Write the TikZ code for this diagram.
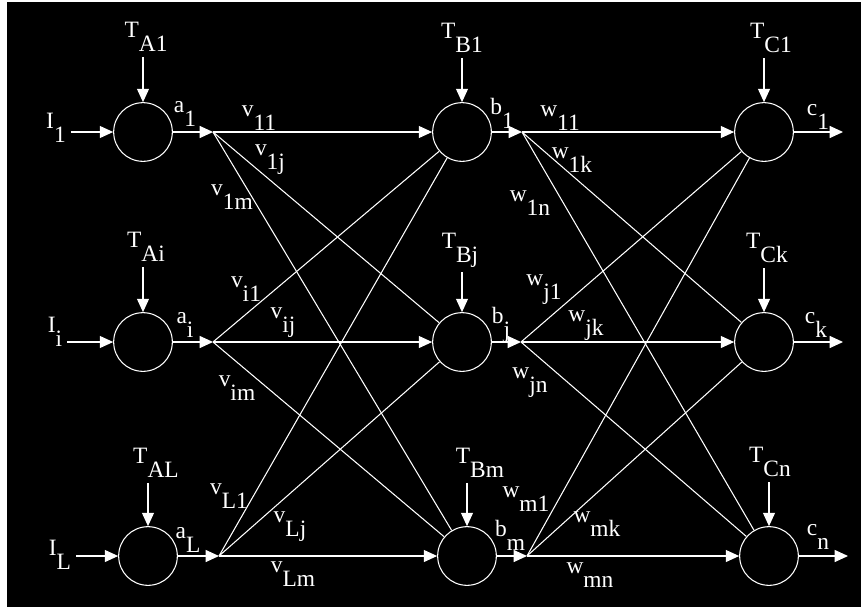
\documentclass[tikz,border=0pt]{standalone}
\usepackage{fontspec}
\setmainfont{Liberation Serif}
\usetikzlibrary{arrows.meta}
\newcommand{\lbl}[2]{#1\raisebox{-12pt}{#2}}

\begin{document}
\begin{tikzpicture}[x=0.03cm,y=-0.03cm,>={Triangle[length=4mm,width=3.6mm]},
 line width=0.9pt,white,font=\fontsize{20}{24}\selectfont,
 unit/.style={circle,draw,minimum size=1.76cm,inner sep=0pt},
 lab/.style={inner sep=4pt}]
\useasboundingbox (0,0) rectangle (861,607);
\fill[white] (0,0) rectangle (861,607);
\fill[black] (7,2) rectangle (861,607);
% Three layers of three units each; pixel grid of the original.
\node[unit] (A1) at (143,132) {};
\node[unit] (Ai) at (143,342) {};
\node[unit] (AL) at (148,556) {};
\node[unit] (B1) at (462,132) {};
\node[unit] (Bj) at (462,342) {};
\node[unit] (Bm) at (467,556) {};
\node[unit] (C1) at (764,132) {};
\node[unit] (Ck) at (764,342) {};
\node[unit] (Cn) at (769,556) {};
\coordinate (a1) at (213,132);
\coordinate (ai) at (213,342);
\coordinate (aL) at (219,556);
\coordinate (b1) at (522,132);
\coordinate (bj) at (521,342);
\coordinate (bm) at (527,556);
\coordinate (c1) at (843,132);
\coordinate (ck) at (843,342);
\coordinate (cn) at (848,556);

% thresholds and inputs
\node[lab] (TA1) at (146,37) {\lbl{T}{A1}};
\node[lab] (TAi) at (146,247) {\lbl{T}{Ai}};
\node[lab] (TAL) at (156,463) {\lbl{T}{AL}};
\node[lab] (TB1) at (462,38) {\lbl{T}{B1}};
\node[lab] (TBj) at (460,250) {\lbl{T}{Bj}};
\node[lab] (TBm) at (480,463) {\lbl{T}{Bm}};
\node[lab] (TC1) at (771,38) {\lbl{T}{C1}};
\node[lab] (TCk) at (767,248) {\lbl{T}{Ck}};
\node[lab] (TCn) at (770,462) {\lbl{T}{Cn}};
\node[lab] (I1) at (56,128) {\lbl{I}{1}};
\node[lab] (Ii) at (55,332) {\lbl{I}{i}};
\node[lab] (IL) at (60,555) {\lbl{I}{L}};
\draw[->] (TA1.south -| A1) -- (A1);
\draw[->] (TAi.south -| Ai) -- (Ai);
\draw[->] (TAL.south -| AL) -- (AL);
\draw[->] (TB1.south -| B1) -- (B1);
\draw[->] (TBj.south -| Bj) -- (Bj);
\draw[->] (TBm.south -| Bm) -- (Bm);
\draw[->] (TC1.south -| C1) -- (C1);
\draw[->] (TCk.south -| Ck) -- (Ck);
\draw[->] (TCn.south -| Cn) -- (Cn);
\draw[->] (I1.east |- A1) -- (A1);
\draw[->] (Ii.east |- Ai) -- (Ai);
\draw[->] (IL.east |- AL) -- (AL);

% first layer to second layer
\draw[->] (A1) -- (a1);
\draw[->] (Ai) -- (ai);
\draw[->] (AL) -- (aL);
\draw[->] (a1) -- (B1);
\draw (a1) -- (Bj);
\draw (a1) -- (Bm);
\draw (ai) -- (B1);
\draw[->] (ai) -- (Bj);
\draw (ai) -- (Bm);
\draw (aL) -- (B1);
\draw (aL) -- (Bj);
\draw[->] (aL) -- (Bm);

% second layer to third layer
\draw[->] (B1) -- (b1);
\draw[->] (Bj) -- (bj);
\draw[->] (Bm) -- (bm);
\draw[->] (b1) -- (C1);
\draw (b1) -- (Ck);
\draw (b1) -- (Cn);
\draw (bj) -- (C1);
\draw[->] (bj) -- (Ck);
\draw (bj) -- (Cn);
\draw (bm) -- (C1);
\draw (bm) -- (Ck);
\draw[->] (bm) -- (Cn);
\draw[->] (C1) -- (c1);
\draw[->] (Ck) -- (ck);
\draw[->] (Cn) -- (cn);

% outputs and weights
\node[lab] (la1) at (185,114) {\lbl{a}{1}};
\node[lab] (lai) at (185,325) {\lbl{a}{i}};
\node[lab] (laL) at (188,540) {\lbl{a}{L}};
\node[lab] (lb1) at (502,113) {\lbl{b}{1}};
\node[lab] (lbj) at (501,325) {\lbl{b}{j}};
\node[lab] (lbm) at (510,535) {\lbl{b}{m}};
\node[lab] (lc1) at (818,117) {\lbl{c}{1}};
\node[lab] (lck) at (816,325) {\lbl{c}{k}};
\node[lab] (lcn) at (818,537) {\lbl{c}{n}};
\node[lab] (v11) at (259,118) {\lbl{v}{11}};
\node[lab] (v1j) at (270,160) {\lbl{v}{1j}};
\node[lab] (v1m) at (232,197) {\lbl{v}{1m}};
\node[lab] (vi1) at (246,289) {\lbl{v}{i1}};
\node[lab] (vij) at (283,323) {\lbl{v}{ij}};
\node[lab] (vim) at (237,388) {\lbl{v}{im}};
\node[lab] (vL1) at (229,496) {\lbl{v}{L1}};
\node[lab] (vLj) at (290,527) {\lbl{v}{Lj}};
\node[lab] (vLm) at (293,574) {\lbl{v}{Lm}};
\node[lab] (w11) at (560,118) {\lbl{w}{11}};
\node[lab] (w1k) at (572,160) {\lbl{w}{1k}};
\node[lab] (w1n) at (530,203) {\lbl{w}{1n}};
\node[lab] (wj1) at (544,290) {\lbl{w}{j1}};
\node[lab] (wjk) at (586,326) {\lbl{w}{jk}};
\node[lab] (wjn) at (530,383) {\lbl{w}{jn}};
\node[lab] (wm1) at (526,499) {\lbl{w}{m1}};
\node[lab] (wmk) at (597,524) {\lbl{w}{mk}};
\node[lab] (wmn) at (590,575) {\lbl{w}{mn}};
\end{tikzpicture}
\end{document}
